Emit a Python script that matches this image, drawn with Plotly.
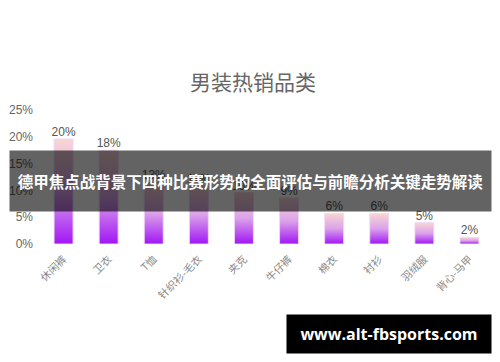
import plotly.graph_objects as go

categories = ["休闲裤", "卫衣", "T恤", "针织衫-毛衣", "夹克", "牛仔裤", "棉衣", "衬衫", "羽绒服", "背心-马甲"]
values = [19.6, 17.5, 11.5, 10.9, 9.6, 8.6, 5.7, 5.7, 4.0, 1.25]
labels = ["20%", "18%", "13%", "11%", "10%", "9%", "6%", "6%", "5%", "2%"]
y_ticks = [0, 5, 10, 15, 20, 25]
y_tick_text = ["0%", "5%", "10%", "15%", "20%", "25%"]

title_text = "男装热销品类"
banner_text = "德甲焦点战背景下四种比赛形势的全面评估与前瞻分析关键走势解读"
watermark_text = "www.alt-fbsports.com"

half_w = 0.21
grad = [[0, "#a116f5"], [0.5, "#dba2ea"], [1, "#f8d6d4"]]

fig = go.Figure()
for i, v in enumerate(values):
    fig.add_trace(go.Scatter(
        x=[i - half_w, i + half_w, i + half_w, i - half_w, i - half_w],
        y=[0, 0, v, v, 0],
        mode="lines",
        fill="toself",
        fillgradient=dict(type="vertical", colorscale=grad),
        line=dict(color="rgba(240,215,245,0.9)", width=1),
        showlegend=False,
        hoverinfo="skip",
    ))

fig.add_trace(go.Scatter(
    x=list(range(len(categories))),
    y=values,
    mode="text",
    text=labels,
    textposition="top center",
    textfont=dict(family="Liberation Sans, Arial, sans-serif", size=12, color="#555"),
    showlegend=False,
    hoverinfo="skip",
))

fig.update_layout(
    width=500, height=362,
    margin=dict(l=41, r=8, t=110, b=118),
    paper_bgcolor="white", plot_bgcolor="white",
    title=dict(text=title_text, x=0.506, xref="container", y=1 - 83 / 362, yref="container",
               xanchor="center", yanchor="middle",
               font=dict(family="Noto Sans CJK SC", size=21, color="#666")),
    xaxis=dict(range=[-0.5, len(categories) - 0.5], tickvals=list(range(len(categories))),
               ticktext=categories, tickangle=-45, showgrid=False, zeroline=False,
               showline=False, ticks="", ticklabelstandoff=6,
               tickfont=dict(family="Noto Sans CJK SC", size=10.5, color="#888")),
    yaxis=dict(range=[0, 25], tickvals=y_ticks, ticktext=y_tick_text, showgrid=False,
               zeroline=False, showline=False, ticks="", ticklabelstandoff=7,
               tickfont=dict(family="Liberation Sans, Arial, sans-serif", size=12, color="#666")),
    annotations=[
        dict(text="<b>" + banner_text + "</b>", xref="paper", yref="paper",
             x=(250.5 - 41) / 451, y=(244 - 181) / 134, xanchor="center", yanchor="middle",
             showarrow=False, width=481, height=60, borderpad=0,
             bgcolor="rgba(0,0,0,0.61)",
             font=dict(family="Noto Sans CJK SC", size=15.5, color="white")),
        dict(text="<b>" + watermark_text + "</b>", xref="paper", yref="paper",
             x=(389 - 41) / 451, y=(244 - 334) / 134, xanchor="center", yanchor="middle",
             showarrow=False, width=204, height=38, borderpad=0,
             bgcolor="black",
             font=dict(family="Open Sans", size=16, color="white")),
    ],
)

fig.write_html("out.html")
